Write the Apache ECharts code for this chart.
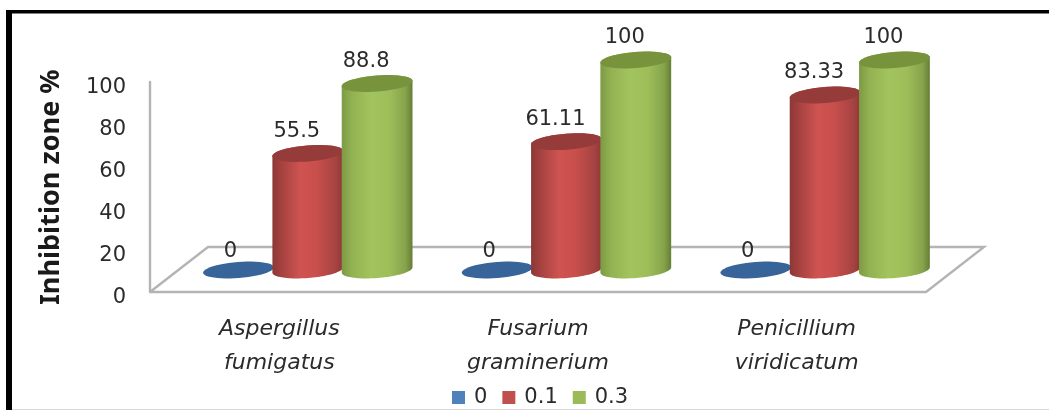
<!DOCTYPE html>
<html>
<head>
<meta charset="utf-8">
<style>
html,body{margin:0;padding:0;background:#fff}
#c{width:1049px;height:410px;filter:blur(0.5px)}
</style>
<script src="https://cdn.jsdelivr.net/npm/echarts@6/dist/echarts.min.js"></script>
</head>
<body>
<div id="c"></div>
<script>
var categories = ['Aspergillus\nfumigatus', 'Fusarium\ngraminerium', 'Penicillium\nviridicatum'];
var seriesNames = ['0', '0.1', '0.3'];
var values0 = [0, 0, 0];
var values01 = [55.5, 61.11, 83.33];
var values03 = [88.8, 100, 100];
var valueLabels0 = ['0', '0', '0'];
var valueLabels01 = ['55.5', '61.11', '83.33'];
var valueLabels03 = ['88.8', '100', '100'];
var yTicks = {min: 0, max: 100, interval: 20};

var FONT = '"DejaVu Sans"';
var TEXT = '#2b2b2b';
var TILT = -4.5 * Math.PI / 180;

function ellipsePoint(cx, cy, rx, ry, t) {
  var x = rx * Math.cos(t), y = ry * Math.sin(t);
  return [cx + x * Math.cos(TILT) - y * Math.sin(TILT), cy + x * Math.sin(TILT) + y * Math.cos(TILT)];
}
function arc(cx, cy, rx, ry, a, b) {
  var pts = [], n = 48;
  for (var i = 0; i <= n; i++) pts.push(ellipsePoint(cx, cy, rx, ry, a + (b - a) * i / n));
  return pts;
}
function grad(stops) {
  return new echarts.graphic.LinearGradient(0, 0, 1, 0, stops.map(function (s) { return {offset: s[0], color: s[1]}; }));
}

function cylinder(opts, values, labels) {
  return {
    type: 'custom',
    name: opts.name,
    itemStyle: {color: opts.legend},
    z: 3,
    data: values.map(function (v, i) { return [i, v, labels[i]]; }),
    encode: {x: 0, y: 1},
    renderItem: function (params, api) {
      var base = api.coord([api.value(0), 0]);
      var top = api.coord([api.value(0), api.value(1)]);
      var band = api.size([1, 0])[0];
      var cx = base[0] + band * opts.shift;
      var y0 = base[1] - 22;
      var y1 = top[1] - 22;
      var rx = 35.5, ry = 8;
      var children = [];
      if (api.value(1) > 0) {
        var lower = arc(cx, y0, rx, ry, Math.PI, 0);
        var upper = arc(cx, y1, rx, ry, 0, -Math.PI);
        children.push({type: 'polygon', shape: {points: lower.concat(upper)}, style: {fill: grad(opts.body)}});
      }
      children.push({
        type: 'polygon',
        shape: {points: arc(cx, y1, rx, ry, 0, Math.PI * 2)},
        style: {fill: opts.cap}
      });
      children.push({
        type: 'text',
        style: {
          x: cx + opts.labelDx, y: y1 + opts.labelDy, text: String(api.value(2)),
          font: '21px ' + FONT, fill: TEXT, align: 'center', verticalAlign: 'middle'
        }
      });
      return {type: 'group', children: children};
    }
  };
}

var floorSeries = {
  type: 'custom',
  name: 'floor',
  silent: true,
  z: 1,
  data: [[0, 0]],
  encode: {x: 0, y: 1},
  renderItem: function (params) {
    var g = params.coordSys;
    var l = g.x, r = g.x + g.width, b = g.y + g.height;
    var dx = 58, dy = 45;
    return {
      type: 'polyline',
      shape: {points: [[l, b], [l + dx, b - dy], [r + dx, b - dy], [r, b], [l, b]]},
      style: {stroke: '#b4b4b4', lineWidth: 2.4, fill: '#ffffff'}
    };
  }
};

var blue = {name: seriesNames[0], shift: -0.158, labelDx: -8, labelDy: -18, legend: '#4f81bd', cap: '#37659a', body: []};
var red = {name: seriesNames[1], shift: 0.11, labelDx: -11, labelDy: -22, legend: '#c0504d', cap: '#953b39',
  body: [[0, '#8c3836'], [0.15, '#a84341'], [0.4, '#cf5451'], [0.62, '#c94f4c'], [0.9, '#a54341'], [1, '#8d3735']]};
var green = {name: seriesNames[2], shift: 0.378, labelDx: -11, labelDy: -22, legend: '#9bbb59', cap: '#77933c',
  body: [[0, '#7d9a45'], [0.15, '#93b252'], [0.42, '#a2c45d'], [0.68, '#9dbd59'], [0.9, '#86a34b'], [1, '#637e36']]};

var chart = echarts.init(document.getElementById('c'), null, {renderer: 'canvas'});
chart.setOption({
  animation: false,
  backgroundColor: '#ffffff',
  grid: {left: 150, right: 123, top: 82, height: 210, containLabel: false},
  xAxis: {
    type: 'category',
    data: categories,
    axisLine: {show: false},
    axisTick: {show: false},
    axisLabel: {margin: 20, fontFamily: FONT, fontStyle: 'italic', fontSize: 22, lineHeight: 34, color: TEXT, interval: 0}
  },
  yAxis: {
    type: 'value',
    min: yTicks.min, max: yTicks.max, interval: yTicks.interval,
    name: 'Inhibition zone %',
    nameLocation: 'middle',
    nameRotate: 90,
    nameGap: 85,
    nameTextStyle: {fontFamily: '"Noto Sans"', fontWeight: 'bold', fontSize: 27, color: '#1a1a1a'},
    axisLine: {show: true, lineStyle: {color: '#b4b4b4', width: 2.4}},
    axisTick: {show: false},
    splitLine: {show: false},
    axisLabel: {margin: 24, fontFamily: FONT, fontSize: 21, color: TEXT, verticalAlign: 'top', lineHeight: 12}
  },
  legend: {
    data: seriesNames.map(function (n) { return {name: n, icon: 'rect'}; }),
    left: 452, top: 387, padding: 0,
    itemWidth: 13, itemHeight: 13, itemGap: 15,
    textStyle: {fontFamily: FONT, fontSize: 21, color: TEXT, padding: [0, 0, 0, 4]}
  },
  graphic: [
    {type: 'rect', shape: {x: 6, y: 10, width: 6, height: 400}, style: {fill: '#000'}},
    {type: 'rect', shape: {x: 6, y: 10, width: 1043, height: 3.5}, style: {fill: '#000'}},
    {type: 'rect', shape: {x: 12, y: 409, width: 1037, height: 1}, style: {fill: '#d9d9d9'}}
  ],
  series: [floorSeries, cylinder(blue, values0, valueLabels0), cylinder(red, values01, valueLabels01), cylinder(green, values03, valueLabels03)]
});
</script>
</body>
</html>
